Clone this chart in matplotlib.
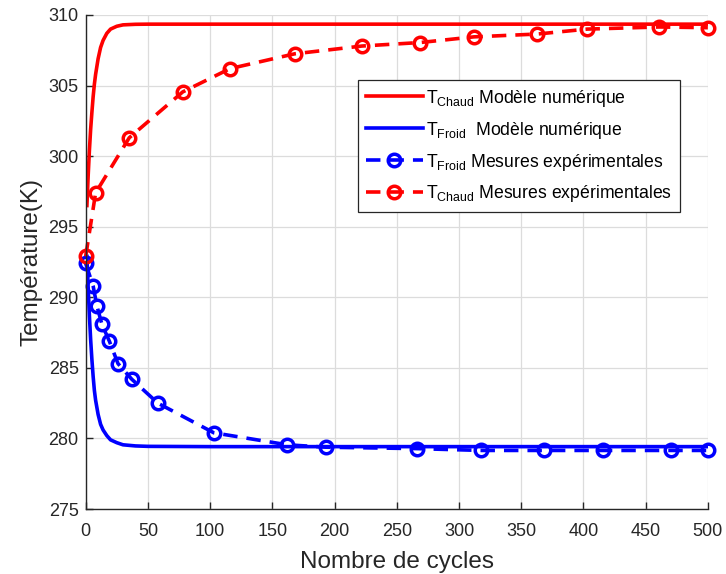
import matplotlib
matplotlib.use('Agg')
import matplotlib.pyplot as plt

plt.rcParams['font.family'] = ['Liberation Sans', 'DejaVu Sans']
plt.rcParams['mathtext.fontset'] = 'custom'
plt.rcParams['mathtext.rm'] = 'Liberation Sans'
plt.rcParams['mathtext.it'] = 'Liberation Sans:italic'

# Numerical model curves
model_x = [1, 2, 3, 4, 5, 6, 7, 8, 10, 12, 14, 17, 20, 25, 30, 40, 50,
           100, 200, 300, 400, 500]
chaud_model = [296.5, 298.6, 300.4, 301.9, 303.1, 304.2, 305.1, 305.8, 306.9,
               307.7, 308.2, 308.7, 309.0, 309.2, 309.3, 309.34, 309.35,
               309.35, 309.35, 309.35, 309.35, 309.35]
froid_model = [292.9, 290.7, 288.7, 287.0, 285.6, 284.4, 283.4, 282.7, 281.7,
               281.0, 280.6, 280.2, 279.9, 279.7, 279.55, 279.47, 279.44,
               279.42, 279.42, 279.42, 279.42, 279.42]

# Experimental measurements
froid_x = [0, 6, 9, 13, 19, 26, 37, 58, 103, 162, 193, 266, 318, 368, 416, 470, 500]
froid_exp = [292.4, 290.8, 289.4, 288.1, 286.9, 285.3, 284.2, 282.5, 280.4,
             279.55, 279.38, 279.28, 279.15, 279.15, 279.15, 279.15, 279.15]

chaud_x = [0, 8, 35, 78, 116, 168, 222, 269, 312, 363, 403, 461, 500]
chaud_exp = [292.9, 297.4, 301.3, 304.55, 306.2, 307.25, 307.8, 308.05,
             308.45, 308.65, 309.0, 309.15, 309.1]

fig = plt.figure(figsize=(7.26, 5.74), dpi=100)
ax = fig.add_axes([0.118, 0.1132, 0.857, 0.8607])

lw = 2.6
dash = (4, 2.5)
ax.plot(model_x, chaud_model, color='red', lw=lw,
        label=r'T$_{\mathrm{Chaud}}$ Modèle numérique')
ax.plot(model_x, froid_model, color='blue', lw=lw,
        label=r'T$_{\mathrm{Froid}}$  Modèle numérique')
ax.plot(froid_x, froid_exp, color='blue', lw=lw, ls='--', dashes=dash,
        marker='o', ms=9, mew=2.5, mfc='none', clip_on=False,
        label=r'T$_{\mathrm{Froid}}$ Mesures expérimentales')
ax.plot(chaud_x, chaud_exp, color='red', lw=lw, ls='--', dashes=dash,
        marker='o', ms=9, mew=2.5, mfc='none', clip_on=False,
        label=r'T$_{\mathrm{Chaud}}$ Mesures expérimentales')

ax.set_xlim(0, 500)
ax.set_ylim(275, 310)
ax.set_xticks(range(0, 501, 50))
ax.set_yticks(range(275, 311, 5))
ax.grid(True, color='#dcdcdc', lw=0.9)
ax.set_axisbelow(True)
for s in ['top', 'right']:
    ax.spines[s].set_visible(False)
for s in ['left', 'bottom']:
    ax.spines[s].set_color('#262626')
    ax.spines[s].set_linewidth(1.0)
ax.tick_params(direction='in', length=5, width=1, colors='#262626',
               labelsize=13)
ax.tick_params(axis='x', pad=10)
ax.tick_params(axis='y', pad=5)

ax.set_xlabel('Nombre de cycles', fontsize=17.5, color='#262626', labelpad=8)
ax.set_ylabel('Température(K)', fontsize=17.5, color='#262626', labelpad=4)

leg = ax.legend(loc='upper left', bbox_to_anchor=(0.438, 0.869), fontsize=12.7,
                fancybox=False, edgecolor='#262626', framealpha=1,
                handlelength=3.2, borderpad=0.45, labelspacing=0.62,
                handletextpad=0.2, borderaxespad=0)
leg.get_frame().set_linewidth(0.9)

fig.savefig('out.png', dpi=100)
